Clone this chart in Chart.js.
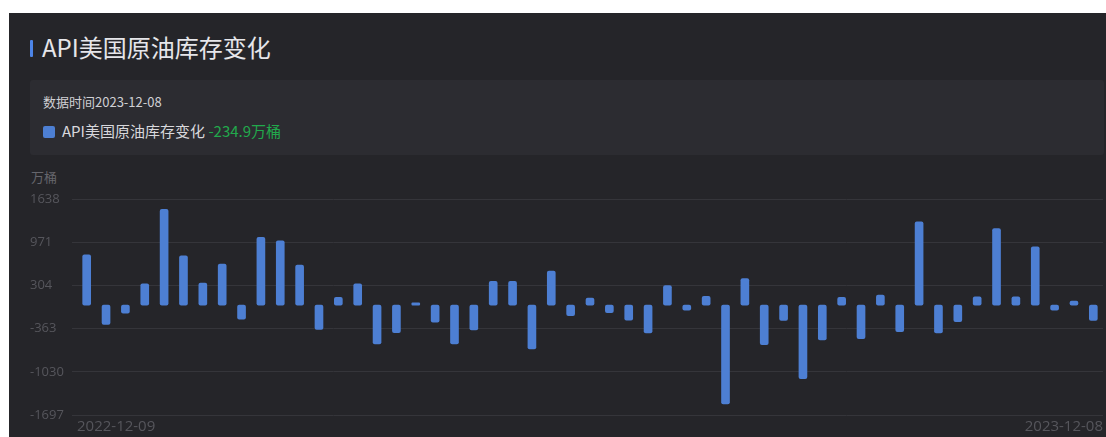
<!DOCTYPE html>
<html>
<head>
<meta charset="utf-8">
<script src="https://cdn.jsdelivr.net/npm/chart.js@4.4.0/dist/chart.umd.min.js"></script>
<style>
  html, body { margin: 0; padding: 0; background: #ffffff; width: 1106px; height: 437px; overflow: hidden; }
  body { font-family: "Noto Sans CJK SC", "Noto Sans", sans-serif; }
  #panel { position: absolute; left: 9px; top: 13px; width: 1097px; height: 424px; background: #252529; }
  #title { position: absolute; left: 42px; top: 31px; font-size: 24px; color: #e6e6ea; line-height: 32px; }
  #titlebar { position: absolute; left: 30px; top: 40px; width: 3px; height: 17px; background: #4d85e8; border-radius: 1px; }
  #info { position: absolute; left: 30px; top: 80px; width: 1074px; height: 75px; background: #2c2c31; border-radius: 3px; }
  #date { position: absolute; left: 43px; top: 92px; font-size: 13px; color: #d0d0d4; line-height: 20px; }
  #legend { position: absolute; left: 43px; top: 120px; font-size: 15px; color: #d8d8dc; line-height: 22px; white-space: nowrap; }
  #legend .sw { display: inline-block; width: 12px; height: 12px; background: #4d7fd3; border-radius: 2px; vertical-align: -1px; margin-right: 7px; }
  #legend .val { color: #22a94c; }
  #unit { position: absolute; left: 31px; top: 169px; font-size: 13px; color: #66666c; line-height: 16px; }
  #wrap { position: absolute; left: 30px; top: 185px; width: 1076px; height: 252px; }
</style>
</head>
<body>
<div id="panel"></div>
<div id="titlebar"></div>
<div id="title">API美国原油库存变化</div>
<div id="info"></div>
<div id="date"></div>
<div id="legend"></div>
<div id="unit">万桶</div>
<div id="wrap"><canvas id="c" width="1076" height="252"></canvas></div>
<script>
const seriesName = "API美国原油库存变化";
const unitLabel = "万桶";
const dataDate = "2023-12-08";
const categories = [
  "2022-12-09","2022-12-16","2022-12-23","2022-12-30","2023-01-06","2023-01-13","2023-01-20","2023-01-27",
  "2023-02-03","2023-02-10","2023-02-17","2023-02-24","2023-03-03","2023-03-10","2023-03-17","2023-03-24",
  "2023-03-31","2023-04-07","2023-04-14","2023-04-21","2023-04-28","2023-05-05","2023-05-12","2023-05-19",
  "2023-05-26","2023-06-02","2023-06-09","2023-06-16","2023-06-23","2023-06-30","2023-07-07","2023-07-14",
  "2023-07-21","2023-07-28","2023-08-04","2023-08-11","2023-08-18","2023-08-25","2023-09-01","2023-09-08",
  "2023-09-15","2023-09-22","2023-09-29","2023-10-06","2023-10-13","2023-10-20","2023-10-27","2023-11-03",
  "2023-11-10","2023-11-17","2023-11-24","2023-12-01","2023-12-08"
];
const values = [
  776, -298, -123, 329, 1479, 760, 339, 632, -216, 1048, 991, 616, -375,
  118, 329, -601, -426, 36, -262, -601, -385, 365, 365, -678, 524,
  -164, 108, -118, -231, -431, 303, -77, 134, -1525, 411, -611, -236,
  -1135, -539, 118, -519, 154, -411, 1284, -431, -257, 128, 1181, 128, 898, -77, 62, -234.9
];
const yTicks = [-1697, -1030, -363, 304, 971, 1638];

document.getElementById('date').textContent = '数据时间' + dataDate;
document.getElementById('legend').innerHTML =
  '<span class="sw"></span>' + seriesName + ' <span class="val">' + values[values.length - 1] + unitLabel + '</span>';

const edgeLabels = {
  id: 'edgeLabels',
  afterDraw(chart) {
    const { ctx, chartArea } = chart;
    const labels = chart.data.labels;
    ctx.save();
    ctx.font = '15px "Open Sans", "Noto Sans", sans-serif';
    ctx.fillStyle = '#56565c';
    ctx.textBaseline = 'middle';
    const y = chartArea.bottom + 12;
    ctx.textAlign = 'left';
    ctx.fillText(labels[0], chartArea.left, y);
    ctx.textAlign = 'right';
    ctx.fillText(labels[labels.length - 1], chartArea.right, y);
    ctx.restore();
  }
};

new Chart(document.getElementById('c'), {
  type: 'bar',
  data: {
    labels: categories,
    datasets: [{
      label: seriesName,
      data: values,
      backgroundColor: '#4d7fd3',
      borderRadius: 2,
      borderSkipped: false,
      barThickness: 8
    }]
  },
  options: {
    responsive: false,
    animation: false,
    layout: { padding: { top: 14, right: 3, bottom: 0, left: 0 } },
    plugins: { legend: { display: false }, tooltip: { enabled: false } },
    scales: {
      x: {
        grid: { display: false },
        border: { display: false },
        ticks: { display: false },
        afterFit(scale) { scale.height = 22; }
      },
      y: {
        min: yTicks[0],
        max: yTicks[yTicks.length - 1],
        afterBuildTicks(scale) { scale.ticks = yTicks.map(v => ({ value: v })); },
        grid: { color: '#35353a', lineWidth: 1, drawTicks: true, tickLength: 5, tickColor: '#35353a' },
        border: { display: false },
        ticks: {
          color: '#56565c',
          font: { size: 13, family: '"Open Sans", "Noto Sans", sans-serif' },
          crossAlign: 'far',
          padding: 2,
          callback: (v) => String(v)
        },
        afterFit(scale) { scale.width = 47; }
      }
    }
  },
  plugins: [edgeLabels]
});
</script>
</body>
</html>
